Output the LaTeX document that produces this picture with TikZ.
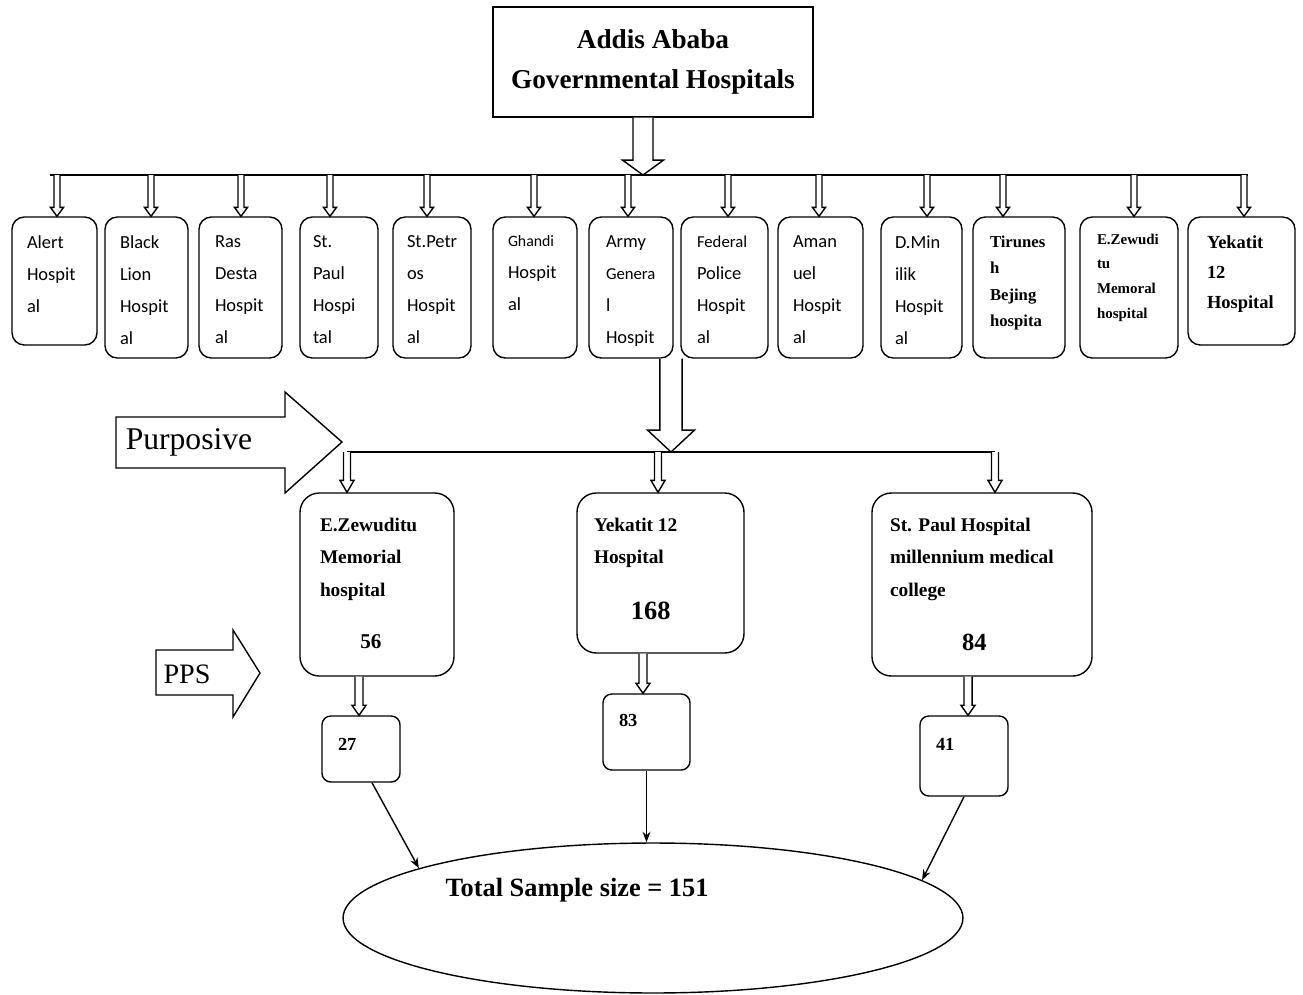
\documentclass[tikz,border=0pt]{standalone}
\usepackage{fontspec}
\setmainfont{Liberation Serif}
\newfontfamily\hospfont{Carlito}
\usetikzlibrary{calc,shapes.geometric,arrows.meta}

\newdimen\unitpx \unitpx=0.02cm
% box text: width, height, left inset, top inset (all in px), text
\newcommand{\boxtxt}[5]{\parbox[c][#2\unitpx][t]{#1\unitpx}{\raggedright\leftskip=#3\unitpx\vspace*{#4\unitpx}#5\par}}
% hollow block arrow pointing down: from, to, shaft half width, head half width, head length
\newcommand{\hollowdown}[5]{\draw[fill=white] let \p1=(#1), \p2=(#2) in
  (\x1-#3,\y1) -- (\x1-#3,\y2+#5) -- (\x1-#4,\y2+#5) -- (\x1,\y2)
  -- (\x1+#4,\y2+#5) -- (\x1+#3,\y2+#5) -- (\x1+#3,\y1);}

\begin{document}
\begin{tikzpicture}[x=0.02cm, y=-0.02cm, thick, >={Stealth[length=6pt,width=4.5pt]},
  hosp/.style={draw, rounded corners=7pt, inner sep=0pt, font=\hospfont\fontsize{10.5}{18.2}\selectfont},
  hospser/.style={hosp, font=\fontsize{9.5}{15}\selectfont\bfseries},
  midbox/.style={draw, rounded corners=11pt, inner sep=0pt, font=\fontsize{11}{18.5}\selectfont\bfseries},
  numbox/.style={draw, rounded corners=5pt, inner sep=0pt, font=\fontsize{10.5}{12}\selectfont\bfseries}]
\useasboundingbox (0,0) rectangle (1303,995);

\node (title) at (653,62) [draw, minimum width=6.4cm, minimum height=2.2cm, align=center,
  font=\fontsize{15.5}{23}\selectfont\bfseries] {Addis Ababa\\Governmental Hospitals};

\coordinate (busL) at (50,175);
\coordinate (busR) at (1248,175);
\coordinate (tip1) at (643,175);
\draw (busL) -- (busR);
\hollowdown{$(title.south)+(-10,0)$}{tip1}{5.7pt}{11.7pt}{8.5pt}

\node (alert) at (54.5,281) [hosp] {\boxtxt{85}{128}{15}{19}{Alert\\Hospit\\al}};
\node (blion) at (146.5,287.5) [hosp] {\boxtxt{83}{141}{15}{19}{Black\\Lion\\Hospit\\al}};
\node (rasdesta) at (240.5,287.5) [hosp] {\boxtxt{83}{141}{16}{19}{Ras\\Desta\\Hospit\\al}};
\node (stpaul) at (339,287.5) [hosp] {\boxtxt{78}{141}{13}{19}{St.\\Paul\\Hospi\\tal}};
\node (stpetros) at (432,287.5) [hosp] {\boxtxt{78}{141}{14}{19}{St.Petr\\os\\Hospit\\al}};
\node (ghandi) at (535,287.5) [hosp] {\boxtxt{84}{141}{15}{19}{{\fontsize{9}{18.2}\selectfont Ghandi}\\Hospit\\al}};
\node (army) at (631,287.5) [hosp] {\boxtxt{84}{141}{17}{19}{Army\\{\fontsize{9.5}{18.2}\selectfont Genera}\\l\\Hospit}};
\node (federal) at (724.5,287.5) [hosp] {\boxtxt{87}{141}{16}{19}{{\fontsize{9.5}{18.2}\selectfont Federal}\\Police\\Hospit\\al}};
\node (amanuel) at (820.5,287.5) [hosp] {\boxtxt{85}{141}{15}{19}{Aman\\uel\\Hospit\\al}};
\node (dminilik) at (921.5,287.5) [hosp] {\boxtxt{81}{141}{14}{19}{D.Min\\ilik\\Hospit\\al}};
\node (tirunesh) at (1019,287.5) [hospser] {\boxtxt{92}{141}{17}{19}{Tirunes\\h\\Bejing\\hospita}};
\node (ezew) at (1129,287.5) [hospser, font=\fontsize{8.5}{14}\selectfont\bfseries] {\boxtxt{98}{141}{17}{17}{E.Zewudi\\tu\\Memoral\\hospital}};
\node (yekatit) at (1241.5,281) [hospser, font=\fontsize{10.5}{17}\selectfont\bfseries] {\boxtxt{107}{128}{19}{19}{Yekatit\\12\\Hospital}};

\foreach \xpos/\bname in {57/alert,151/blion,241/rasdesta,330/stpaul,427/stpetros,534/ghandi,628/army,
  728/federal,819/amanuel,927/dminilik,1003/tirunesh,1134/ezew,1244/yekatit}{
  \coordinate (bus\bname) at (\xpos,175);
  \hollowdown{bus\bname}{\bname.north}{1.7pt}{3.7pt}{5.1pt}
}

% purposive selection
\coordinate (bus2L) at (347,452);
\coordinate (bus2M) at (658,452);
\coordinate (bus2R) at (995,452);
\coordinate (tip2) at (671,452);
\draw (bus2L) -- (bus2R);
\hollowdown{$(army.south)+(40,0)$}{tip2}{6.3pt}{13.4pt}{12.5pt}

\draw[fill=white] (116,417) -- (285,417) -- (285,392) -- (342,442) -- (285,493) -- (285,468) -- (116,468) -- cycle;
\node (purp) at (189,442) [font=\fontsize{18}{20}\selectfont] {Purposive};

\node (ezbig) at (377,584.5) [midbox] {\boxtxt{154}{183}{20}{25}{E.Zewuditu\\Memorial\\hospital\\[11pt]\hspace*{23pt}{\fontsize{12}{14}\selectfont 56}}};
\node (yekbig) at (660.5,573) [midbox] {\boxtxt{167}{160}{17}{25}{Yekatit 12\\Hospital\\[13pt]\hspace*{21pt}{\fontsize{15}{18}\selectfont 168}}};
\node (spbig) at (982,584.5) [midbox] {\boxtxt{220}{183}{18}{25}{St. Paul Hospital\\millennium medical\\college\\[12pt]\hspace*{41pt}{\fontsize{14}{17}\selectfont 84}}};

\hollowdown{bus2L}{ezbig.north}{2pt}{4pt}{6.8pt}
\hollowdown{bus2M}{yekbig.north}{2pt}{4pt}{6.8pt}
\hollowdown{bus2R}{spbig.north}{2pt}{4pt}{6.8pt}

% PPS
\draw[fill=white] (156,650) -- (233,650) -- (233,630) -- (260,673) -- (233,717) -- (233,695) -- (156,695) -- cycle;
\node (pps) at (187,674) [font=\fontsize{16}{18}\selectfont] {PPS};

\node (n27) at (361,749) [numbox] {\boxtxt{78}{66}{16}{22}{27}};
\node (n83) at (646.5,732) [numbox] {\boxtxt{87}{76}{16}{20}{83}};
\node (n41) at (964,756) [numbox] {\boxtxt{88}{80}{16}{22}{41}};

\hollowdown{$(ezbig.south)+(-18,0)$}{n27.north}{2.3pt}{4pt}{5.7pt}
\hollowdown{$(yekbig.south)+(-17.5,0)$}{n83.north}{2.3pt}{4pt}{5.7pt}
\hollowdown{$(spbig.south)+(-14,0)$}{n41.north}{2.3pt}{4pt}{5.7pt}

\node (total) at (653,918) [ellipse, draw, minimum width=12.4cm, minimum height=3cm] {};
\node (totaltxt) at (577,890) [font=\fontsize{15}{18}\selectfont\bfseries] {Total Sample size = 151};

\draw[->] ($(n27.south)+(11,0)$) -- (total.168);
\draw[->] (n83.south) -- (n83.south |- total.north);
\draw[->] (n41.south) -- (total.8);
\end{tikzpicture}
\end{document}
